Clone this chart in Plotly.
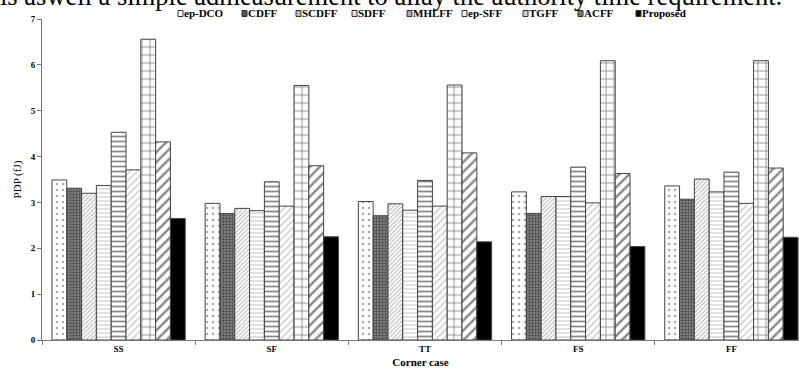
import plotly.graph_objects as go

categories = ["SS", "SF", "TT", "FS", "FF"]
series_names = ["ep-DCO", "CDFF", "SCDFF", "SDFF", "MHLFF", "ep-SFF", "TGFF", "ACFF", "Proposed"]

ep_dco = [3.49, 2.98, 3.02, 3.23, 3.36]
cdff = [3.31, 2.76, 2.71, 2.76, 3.07]
scdff = [3.20, 2.87, 2.97, 3.13, 3.51]
sdff = [3.37, 2.82, 2.83, 3.13, 3.23]
mhlff = [4.53, 3.45, 3.48, 3.77, 3.66]
ep_sff = [3.71, 2.92, 2.92, 2.99, 2.98]
tgff = [6.56, 5.55, 5.56, 6.09, 6.09]
acff = [4.32, 3.80, 4.08, 3.63, 3.75]
proposed = [2.65, 2.25, 2.14, 2.04, 2.24]

values = [ep_dco, cdff, scdff, sdff, mhlff, ep_sff, tgff, acff, proposed]

y_ticks = [0, 1, 2, 3, 4, 5, 6, 7]

# legend layout: left pixel where each label's text starts, and swatch tone
legend_text_x = [184, 248, 302, 358, 413, 468, 529, 584, 642]
legend_swatch = ["#ffffff", "#555555", "#bbbbbb", "#dddddd", "#aaaaaa", "#eeeeee", "#cccccc", "#777777", "#000000"]

styles = [
    dict(color="white", pattern=dict(shape=".", fgcolor="#555", bgcolor="white", size=6, solidity=0.15)),
    dict(color="#777", pattern=dict(shape=".", fgcolor="#111", bgcolor="#888", size=3, solidity=0.5)),
    dict(color="white", pattern=dict(shape="/", fgcolor="#555", bgcolor="white", size=3, solidity=0.3)),
    dict(color="white", pattern=dict(shape="-", fgcolor="#999", bgcolor="white", size=4, solidity=0.3)),
    dict(color="white", pattern=dict(shape="-", fgcolor="#111", bgcolor="white", size=5, solidity=0.35)),
    dict(color="white", pattern=dict(shape="/", fgcolor="#888", bgcolor="white", size=5, solidity=0.25)),
    dict(color="white", pattern=dict(shape="+", fgcolor="#111", bgcolor="white", size=8, solidity=0.2)),
    dict(color="white", pattern=dict(shape="/", fgcolor="#111", bgcolor="white", size=7, solidity=0.35)),
    dict(color="black"),
]

W, H = 799, 370
ml, mr, mt, mb = 42, 0, 19, 30
pw = W - ml - mr
ph = H - mt - mb


def px_x(p):
    return (p - ml) / pw


def px_y(p):
    return (H - mb - p) / ph


fig = go.Figure()
for name, vals, st in zip(series_names, values, styles):
    m = dict(st)
    m["line"] = dict(color="#444", width=1)
    fig.add_trace(go.Bar(x=categories, y=vals, name=name, marker=m, showlegend=False))

# compact legend drawn as swatches + bold labels (matches the reference's tight layout)
leg_y = 13.5
for name, tx, sw in zip(series_names, legend_text_x, legend_swatch):
    fig.add_shape(
        type="rect", xref="paper", yref="paper",
        x0=px_x(tx - 6), x1=px_x(tx - 1), y0=px_y(leg_y + 3), y1=px_y(leg_y - 3),
        fillcolor=sw, line=dict(color="#333", width=1), layer="above",
    )
    fig.add_annotation(
        text=name, xref="paper", yref="paper", x=px_x(tx - 1), xanchor="left",
        y=px_y(leg_y), yanchor="middle", showarrow=False, borderpad=0,
        font=dict(family="Liberation Serif", size=11, weight="bold", color="black"),
    )

fig.update_layout(
    width=W, height=H,
    margin=dict(l=ml, r=mr, t=mt, b=mb, pad=0, autoexpand=False),
    paper_bgcolor="white", plot_bgcolor="white",
    barmode="group", bargap=0.13, bargroupgap=0,
    font=dict(family="Liberation Serif", color="black", size=10),
    showlegend=False,
    xaxis=dict(
        range=[-0.5, 4.5 - 9 / 153.5], automargin=False,
        showline=True, linecolor="#777", linewidth=1,
        ticks="outside", tickson="boundaries", ticklen=4, tickcolor="#777",
        tickfont=dict(family="Liberation Serif", size=9, weight="bold"),
        title=dict(text="Corner case", font=dict(family="Liberation Serif", size=11, weight="bold"), standoff=5),
        showgrid=False, zeroline=False,
    ),
    yaxis=dict(
        range=[0, 7], tickvals=y_ticks, automargin=False,
        showline=True, linecolor="#777", linewidth=1,
        ticks="outside", ticklen=4, tickcolor="#777",
        tickfont=dict(family="Liberation Serif", size=9, weight="bold"),
        title=dict(text="PDP (fJ)", font=dict(family="Liberation Serif", size=11), standoff=6),
        showgrid=False, zeroline=False,
    ),
)

fig.add_annotation(
    text="is aswell a simple admeasurement to allay the authority time requirement.",
    xref="paper", yref="paper", x=px_x(-2), xanchor="left",
    y=px_y(13), yanchor="bottom", showarrow=False,
    font=dict(family="Liberation Serif", size=26.5, color="black"),
)

fig.write_html(
    "out.html",
    config={"displayModeBar": False},
    post_script="document.body.style.margin='0px';",
)
